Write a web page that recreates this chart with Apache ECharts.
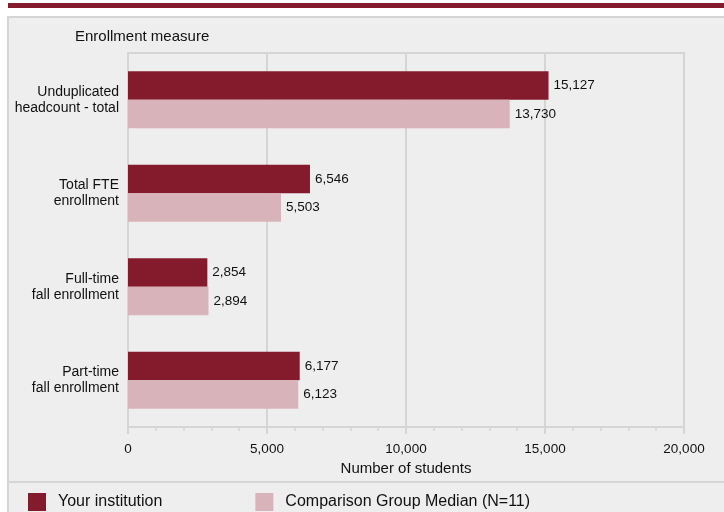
<!DOCTYPE html>
<html>
<head>
<meta charset="utf-8">
<script src="https://cdn.jsdelivr.net/npm/echarts@6/dist/echarts.min.js"></script>
<style>
  html, body { margin: 0; padding: 0; background: #fff; }
  #chart { width: 724px; height: 512px; }
</style>
</head>
<body>
<div id="chart"></div>
<script>
// 数据
var measures = [
  'Unduplicated\nheadcount - total',
  'Total FTE\nenrollment',
  'Full-time\nfall enrollment',
  'Part-time\nfall enrollment'
]
var yourInstitution = [15127, 6546, 2854, 6177]
var comparisonMedian = [13730, 5503, 2894, 6123]
var seriesNames = ['Your institution', 'Comparison Group Median (N=11)']

var darkRed = '#841b2d'
var lightPink = '#d8b3b9'
var lineGrey = '#d5d5d5'
var fontFamily = '"Liberation Sans", Arial, sans-serif'

var myChart = echarts.init(document.getElementById('chart'))

var valueLabel = {
  show: true,
  position: 'right',
  distance: 5,
  color: '#111',
  fontSize: 13.5,
  fontFamily: fontFamily,
  formatter: function (p) {
    return p.value.toLocaleString('en-US')
  }
}

var option = {
  backgroundColor: '#fff',
  animation: false,
  graphic: [
    // 顶部红条
    { type: 'rect', z: -10, shape: { x: 8, y: 3, width: 716, height: 5 }, style: { fill: darkRed } },
    // 灰色底框
    {
      type: 'rect', z: -10,
      shape: { x: 8, y: 17, width: 730, height: 510 },
      style: { fill: '#eeeeee', stroke: lineGrey, lineWidth: 2 }
    },
    // 图例分隔线
    { type: 'line', z: -9, shape: { x1: 8, y1: 482, x2: 724, y2: 482 }, style: { stroke: lineGrey, lineWidth: 2 } },
    {
      type: 'text', left: 75, top: 29,
      style: { text: 'Enrollment measure', fill: '#111', fontSize: 15, fontFamily: fontFamily }
    }
  ],
  grid: {
    left: 128,
    right: 40,
    top: 53,
    bottom: 85,
    show: true,
    borderColor: lineGrey,
    borderWidth: 2,
    backgroundColor: 'transparent'
  },
  legend: {
    left: 23,
    top: 488,
    icon: 'rect',
    itemWidth: 18,
    itemHeight: 18,
    itemGap: 93,
    textStyle: { fontSize: 16, color: '#111', fontFamily: fontFamily, padding: [0, 0, 0, 7] },
    data: seriesNames
  },
  xAxis: {
    type: 'value',
    min: 0,
    max: 20000,
    interval: 5000,
    name: 'Number of students',
    nameLocation: 'middle',
    nameGap: 34,
    nameTextStyle: { fontSize: 15, color: '#111', fontFamily: fontFamily },
    axisLine: { show: true, lineStyle: { color: lineGrey, width: 2 } },
    axisTick: { show: true, length: 7, lineStyle: { color: lineGrey, width: 2 } },
    minorTick: { show: true, splitNumber: 5, length: 4, lineStyle: { color: lineGrey, width: 1.5 } },
    splitLine: { show: true, lineStyle: { color: lineGrey, width: 2 } },
    axisLabel: {
      margin: 15,
      fontSize: 13.5,
      color: '#111',
      fontFamily: fontFamily,
      formatter: function (v) { return v.toLocaleString('en-US') }
    }
  },
  yAxis: {
    type: 'category',
    inverse: true,
    data: measures,
    axisLine: { show: true, lineStyle: { color: lineGrey, width: 2 } },
    axisTick: { show: false },
    axisLabel: {
      margin: 9,
      fontSize: 14,
      lineHeight: 16,
      align: 'right',
      color: '#111',
      fontFamily: fontFamily
    }
  },
  series: [
    {
      name: seriesNames[0],
      type: 'bar',
      data: yourInstitution,
      barWidth: 28.5,
      barGap: '0%',
      itemStyle: { color: darkRed },
      label: valueLabel
    },
    {
      name: seriesNames[1],
      type: 'bar',
      data: comparisonMedian,
      barWidth: 28.5,
      barGap: '0%',
      itemStyle: { color: lightPink },
      label: valueLabel
    }
  ]
}

myChart.setOption(option)
</script>
</body>
</html>
